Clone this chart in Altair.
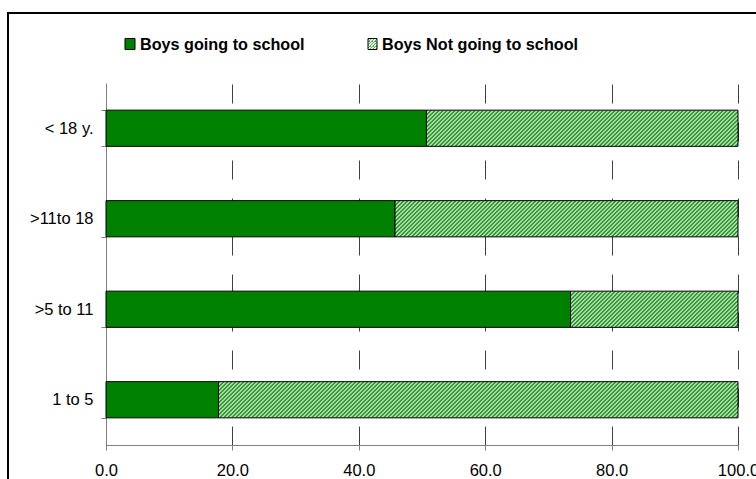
import math
import altair as alt
import pandas as pd

categories = ["< 18 y.", ">11to 18", ">5 to 11", "1 to 5"]
going = [50.7, 45.7, 73.5, 17.8]
not_going = [49.3, 54.3, 26.5, 82.2]
x_ticks = [0, 20, 40, 60, 80, 100]
legend_labels = ["Boys going to school", "Boys Not going to school"]

PLOT_W, PLOT_H = 632, 362
PAD_IN, PAD_OUT = 0.6, 0.3
FONT = "Liberation Sans"
GREEN = "#008000"
DARK = "#339933"
LIGHT = "#aadcaa"

df = pd.DataFrame({"cat": categories, "going": going, "not_going": not_going})
df["end"] = df["going"] + df["not_going"]

step = PLOT_H / (len(categories) - PAD_IN + 2 * PAD_OUT)
bandwidth = step * (1 - PAD_IN)


def hatch(w, h, period=4.0, dark=DARK, light=LIGHT):
    span = w + h
    stops = []
    n = int(math.ceil(span / period))
    for i in range(n):
        a = min(1.0, i * period / span)
        m = min(1.0, (i + 0.5) * period / span)
        b = min(1.0, (i + 1) * period / span)
        stops += [
            alt.GradientStop(color=dark, offset=a),
            alt.GradientStop(color=dark, offset=m),
            alt.GradientStop(color=light, offset=m),
            alt.GradientStop(color=light, offset=b),
        ]
    k = span / (w * w + h * h)
    return alt.LinearGradient(gradient="linear", stops=stops, x1=0, y1=0, x2=w * k, y2=h * k)


y_enc = alt.Y(
    "cat:N",
    scale=alt.Scale(domain=categories, paddingInner=PAD_IN, paddingOuter=PAD_OUT),
    axis=alt.Axis(
        title=None, tickBand="extent", tickSize=5, tickColor="#808080",
        domainColor="#808080", labelPadding=8, labelFont=FONT,
        labelFontSize=16.5, labelColor="black", grid=False,
    ),
)

x_axis = alt.Axis(
    values=x_ticks, format=".1f", title=None, grid=True, gridColor="#404040",
    gridDash=[19, 19], tickSize=5, tickColor="#808080", domainColor="#808080",
    labelPadding=12, labelFont=FONT, labelFontSize=16.5, labelColor="black",
    labelFlush=False, labelOverlap=False,
)
x_scale = alt.Scale(domain=[0, 100], nice=False, zero=True)

base = alt.Chart(df).encode(y=y_enc)

layers = []
for i, c in enumerate(categories):
    w = not_going[i] / 100 * PLOT_W
    layers.append(
        base.transform_filter(alt.datum.cat == c)
        .mark_bar(fill=hatch(w, bandwidth), stroke="black", strokeWidth=1)
        .encode(x=alt.X("going:Q", scale=x_scale, axis=x_axis), x2="end:Q")
    )

solid = base.mark_bar(fill=GREEN, stroke="black", strokeWidth=1).encode(
    x=alt.X("going:Q", scale=x_scale, axis=x_axis, stack=None)
)
layers.append(solid)

# legend
leg1 = alt.Chart(alt.Data(values=[{"label": legend_labels[0]}]))
leg2 = alt.Chart(alt.Data(values=[{"label": legend_labels[1]}]))
layers.append(
    leg1.mark_rect(fill=GREEN, stroke="black", strokeWidth=1).encode(
        x=alt.value(19), x2=alt.value(29), y=alt.value(-44.5), y2=alt.value(-33.5))
)
layers.append(
    leg2.mark_rect(fill=hatch(9, 11, period=3.0, dark="#55aa55", light="#e8f4e8"),
                   stroke="black", strokeWidth=1).encode(
        x=alt.value(262), x2=alt.value(271), y=alt.value(-44.5), y2=alt.value(-33.5))
)
layers.append(
    leg1.mark_text(align="left", baseline="alphabetic", font=FONT, fontSize=16.2,
                   fontWeight="bold", color="black").encode(
        x=alt.value(34), y=alt.value(-33.5), text="label:N")
)
layers.append(
    leg2.mark_text(align="left", baseline="alphabetic", font=FONT, fontSize=16.2,
                   fontWeight="bold", color="black").encode(
        x=alt.value(276), y=alt.value(-33.5), text="label:N")
)

# outer frame
frame = alt.Chart(alt.Data(values=[{"f": 1}])).mark_rect(
    fill="transparent", stroke="black", strokeWidth=2
).encode(x=alt.value(-98), x2=alt.value(700), y=alt.value(-70), y2=alt.value(420))
layers.append(frame)

chart = alt.layer(*layers).properties(
    width=PLOT_W, height=PLOT_H,
    padding={"left": 106, "top": 83, "right": 18, "bottom": 34},
    autosize=alt.AutoSizeParams(type="none"),
    background="white",
).configure_view(strokeWidth=0)

chart.save("out.html", embed_options={"renderer": "svg", "actions": False})
